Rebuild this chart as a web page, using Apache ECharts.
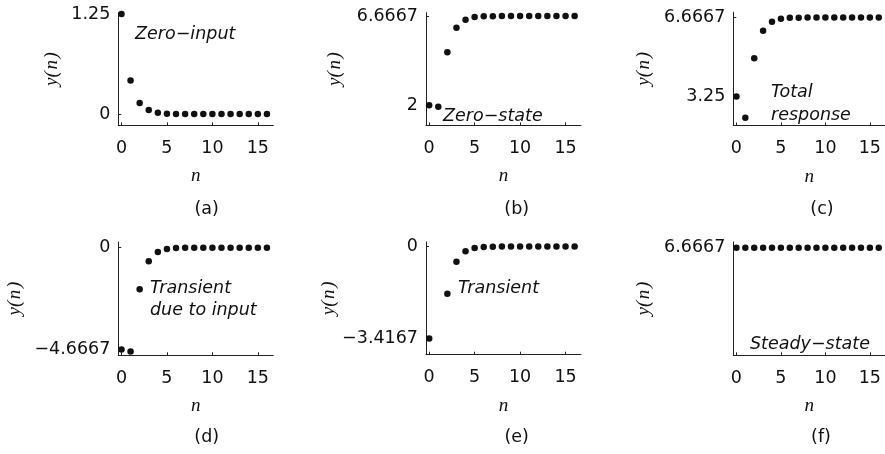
<!DOCTYPE html>
<html>
<head>
<meta charset="utf-8">
<script src="https://cdn.jsdelivr.net/npm/echarts@6/dist/echarts.min.js"></script>
<style>
html,body{margin:0;padding:0;background:#fff;}
#chart{width:885px;height:454px;}
</style>
</head>
<body>
<div id="chart"></div>
<script>
// ---- data ----
const nValues = [0, 1, 2, 3, 4, 5, 6, 7, 8, 9, 10, 11, 12, 13, 14, 15, 16];
const zeroInput = [1.25, 0.42, 0.14, 0.05, 0.016, 0.005, 0.002, 0, 0, 0, 0, 0, 0, 0, 0, 0, 0];
const zeroState = [2, 1.91, 4.77, 6.05, 6.47, 6.61, 6.65, 6.66, 6.6667, 6.6667, 6.6667, 6.6667, 6.6667, 6.6667, 6.6667, 6.6667, 6.6667];
const totalResponse = [3.25, 2.33, 4.91, 6.1, 6.49, 6.615, 6.655, 6.665, 6.6667, 6.6667, 6.6667, 6.6667, 6.6667, 6.6667, 6.6667, 6.6667, 6.6667];
const transientInput = [-4.6667, -4.76, -1.9, -0.62, -0.2, -0.06, -0.02, -0.005, 0, 0, 0, 0, 0, 0, 0, 0, 0];
const transient = [-3.4167, -4.34, -1.76, -0.57, -0.18, -0.055, -0.018, -0.005, 0, 0, 0, 0, 0, 0, 0, 0, 0];
const steadyState = [6.6667, 6.6667, 6.6667, 6.6667, 6.6667, 6.6667, 6.6667, 6.6667, 6.6667, 6.6667, 6.6667, 6.6667, 6.6667, 6.6667, 6.6667, 6.6667, 6.6667];

const xTicks = [0, 5, 10, 15];
const yTicksA = [0, 1.25],        yTickLabelsA = ['0', '1.25'];
const yTicksB = [2, 6.6667],      yTickLabelsB = ['2', '6.6667'];
const yTicksC = [3.25, 6.6667],   yTickLabelsC = ['3.25', '6.6667'];
const yTicksD = [-4.6667, 0],     yTickLabelsD = ['\u22124.6667', '0'];
const yTicksE = [-3.4167, 0],     yTickLabelsE = ['\u22123.4167', '0'];
const yTicksF = [6.6667],         yTickLabelsF = ['6.6667'];
const captions = ['(a)', '(b)', '(c)', '(d)', '(e)', '(f)'];

// ---- layout ----
const SANS = '"DejaVu Sans", sans-serif';
const SERIF = '"Liberation Serif", serif';
const AX = '#222';
const panels = [
  {left: 118.3, top: 12.7, height: 112.7, ymin: -0.141, ymax: 1.266, ticks: yTicksA, labels: yTickLabelsA, data: zeroInput, gap: 57},
  {left: 426,   top: 12.7, height: 112.7, ymin: 0.94,   ymax: 6.84,  ticks: yTicksB, labels: yTickLabelsB, data: zeroState, gap: 82},
  {left: 733.3, top: 12.2, height: 113.3, ymin: 2.0,    ymax: 6.9,   ticks: yTicksC, labels: yTickLabelsC, data: totalResponse, gap: 80},
  {left: 118.3, top: 242,  height: 113.3, ymin: -4.93,  ymax: 0.26,  ticks: yTicksD, labels: yTickLabelsD, data: transientInput, gap: 94},
  {left: 426,   top: 242,  height: 112.7, ymin: -4.02,  ymax: 0.167, ticks: yTicksE, labels: yTickLabelsE, data: transient, gap: 84},
  {left: 733.3, top: 242,  height: 113.3, ymin: 0,      ymax: 7.02,  ticks: yTicksF, labels: yTickLabelsF, data: steadyState, gap: 80}
];
const W = 155;

const grids = [], xAxes = [], yAxes = [], series = [];
panels.forEach((p, i) => {
  grids.push({left: p.left, top: p.top, width: W, height: p.height, containLabel: false});
  xAxes.push({
    type: 'value', gridIndex: i, min: -0.35, max: 16.7,
    axisLine: {show: true, onZero: false, lineStyle: {color: AX, width: 1}},
    axisTick: {show: true, inside: true, length: 3, customValues: xTicks, lineStyle: {color: AX}},
    axisLabel: {customValues: xTicks, fontFamily: SANS, fontSize: 17.5, color: '#111', margin: 14},
    splitLine: {show: false},
    name: 'n', nameLocation: 'middle', nameGap: 41.5,
    nameTextStyle: {fontFamily: SERIF, fontStyle: 'italic', fontSize: 19, color: '#111'}
  });
  yAxes.push({
    type: 'value', gridIndex: i, min: p.ymin, max: p.ymax,
    axisLine: {show: true, onZero: false, lineStyle: {color: AX, width: 1}},
    axisTick: {show: true, inside: true, length: 3, customValues: p.ticks, lineStyle: {color: AX}},
    axisLabel: {
      customValues: p.ticks, fontFamily: SANS, fontSize: 17.5, color: '#111', margin: 8,
      formatter: (v) => { const k = p.ticks.findIndex(t => Math.abs(t - v) < 1e-6); return k >= 0 ? p.labels[k] : ''; }
    },
    splitLine: {show: false},
    name: 'y(\u200An\u200A)', nameLocation: 'middle', nameGap: p.gap, nameRotate: 90,
    nameTextStyle: {fontFamily: SERIF, fontStyle: 'italic', fontSize: 19, color: '#111'}
  });
  series.push({
    type: 'scatter', xAxisIndex: i, yAxisIndex: i, clip: true,
    symbol: 'circle', symbolSize: 6.5,
    itemStyle: {color: '#111', opacity: 1},
    emphasis: {disabled: true},
    data: nValues.map((n, k) => [n, p.data[k]]),
    animation: false
  });
});

function txt(text, x, y) {
  return {
    type: 'text', x: x, y: y, silent: true,
    style: {text: text, font: 'italic 17.5px ' + SANS, fill: '#111', align: 'left', verticalAlign: 'middle'}
  };
}
const graphics = [
  txt('Zero\u2212input', 135, 34.5),
  txt('Zero\u2212state', 443, 116),
  txt('Total', 771, 92),
  txt('response', 771, 115),
  txt('Transient', 150, 288.5),
  txt('due to input', 150, 310),
  txt('Transient', 458, 288.5),
  txt('Steady\u2212state', 750, 344.5)
];
const capPos = [[206.7, 209], [516.7, 209], [822, 209], [206.7, 437], [516.7, 437], [821, 437]];
captions.forEach((c, i) => {
  graphics.push({type: 'text', x: capPos[i][0], y: capPos[i][1], silent: true,
    style: {text: c, font: '17.5px ' + SANS, fill: '#111', align: 'center', verticalAlign: 'middle'}});
});

const chart = echarts.init(document.getElementById('chart'), null, {renderer: 'canvas'});
chart.setOption({
  backgroundColor: '#fff',
  animation: false,
  grid: grids, xAxis: xAxes, yAxis: yAxes, series: series,
  graphic: graphics
});
</script>
</body>
</html>
